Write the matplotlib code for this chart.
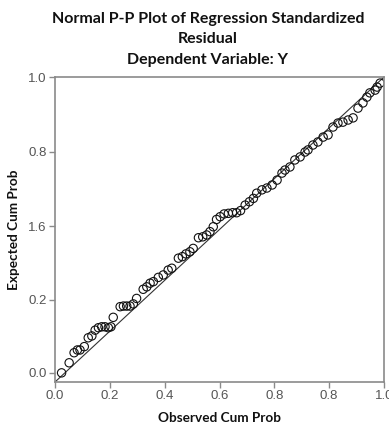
import matplotlib
matplotlib.use("Agg")
import matplotlib.pyplot as plt

# Observed / expected cumulative probabilities
observed = [0.020, 0.043, 0.058, 0.068, 0.076, 0.089, 0.101, 0.112, 0.122, 0.132,
            0.142, 0.152, 0.162, 0.170, 0.177, 0.198, 0.208, 0.218, 0.228, 0.238,
            0.248, 0.268, 0.279, 0.289, 0.299, 0.314, 0.329, 0.344, 0.355, 0.375,
            0.387, 0.398, 0.410, 0.420, 0.436, 0.449, 0.461, 0.471, 0.481, 0.491,
            0.502, 0.514, 0.527, 0.540, 0.552, 0.564, 0.578, 0.591, 0.603, 0.613,
            0.629, 0.644, 0.660, 0.675, 0.690, 0.699, 0.714, 0.729, 0.745, 0.760,
            0.769, 0.784, 0.799, 0.815, 0.830, 0.845, 0.860, 0.875, 0.891, 0.906,
            0.921, 0.936, 0.948, 0.957, 0.973, 0.979, 0.988]
expected = [0.030, 0.063, 0.096, 0.105, 0.105, 0.116, 0.145, 0.151, 0.170, 0.178,
            0.181, 0.181, 0.178, 0.181, 0.212, 0.247, 0.249, 0.249, 0.249, 0.256,
            0.274, 0.304, 0.312, 0.324, 0.329, 0.343, 0.351, 0.367, 0.373, 0.406,
            0.411, 0.420, 0.427, 0.438, 0.473, 0.476, 0.482, 0.493, 0.509, 0.533,
            0.542, 0.551, 0.553, 0.555, 0.555, 0.562, 0.580, 0.591, 0.602, 0.619,
            0.630, 0.636, 0.646, 0.662, 0.685, 0.695, 0.705, 0.728, 0.738, 0.754,
            0.761, 0.777, 0.787, 0.803, 0.810, 0.836, 0.849, 0.852, 0.859, 0.866,
            0.898, 0.915, 0.934, 0.948, 0.957, 0.967, 0.980]

x_ticks = [0, 1/6, 2/6, 3/6, 4/6, 5/6, 1.0]
x_labels = ["0.0", "0.2", "0.4", "0.6", "0.8", "0.8", "1.0"]
y_ticks = [0.03, 0.27, 0.51, 0.755, 1.0]
y_labels = ["0.0", "0.2", "1.6", "0.8", "1.0"]

title_lines = ["Normal P-P Plot of Regression Standardized", "Residual",
               "Dependent Variable: Y"]

fig = plt.figure(figsize=(3.89, 4.23), dpi=100)
ax = fig.add_axes([55/389, 1-382/423, (384-55)/389, (382-77)/423])

ax.plot([0, 1], [0, 1], color="#333333", lw=0.8, zorder=1)
ax.scatter(observed, expected, s=36, facecolors="none", edgecolors="#111111",
           linewidths=0.8, zorder=2)

ax.set_xlim(0, 1)
ax.set_ylim(0, 1)
ax.set_xticks(x_ticks)
ax.set_xticklabels(x_labels)
ax.set_yticks(y_ticks)
ax.set_yticklabels(y_labels)
for s in ax.spines.values():
    s.set_color("#8a8a8a")
    s.set_linewidth(1.2)
ax.tick_params(direction="out", length=4, width=1, color="#8a8a8a",
               labelsize=9.5, labelcolor="#555555", pad=2)
for lab in ax.get_xticklabels() + ax.get_yticklabels():
    lab.set_family("Liberation Sans")

ax.set_xlabel("Observed Cum Prob", fontsize=9.8, fontweight="bold",
              family="Lato", labelpad=7, color="#111111")
ax.set_ylabel("Expected Cum Prob", fontsize=9.8, fontweight="bold",
              family="Lato", labelpad=6, color="#111111")

ys = [19, 39, 60]
for t, yy in zip(title_lines, ys):
    fig.text(208/389, 1-yy/423, t, ha="center", va="center", fontsize=11.5,
             fontweight="bold", family="Lato", color="#111111")

fig.savefig("out.png", dpi=100)
